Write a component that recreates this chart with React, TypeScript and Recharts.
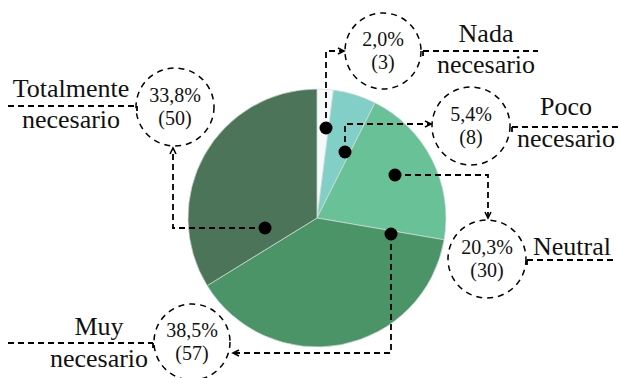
import { Pie, PieChart, Cell } from "recharts";

const categories = ["Nada necesario", "Poco necesario", "Neutral", "Muy necesario", "Totalmente necesario"];
const counts = [3, 8, 30, 57, 50];
const nameLines = [
  ["Nada", "necesario"],
  ["Poco", "necesario"],
  ["Neutral"],
  ["Muy", "necesario"],
  ["Totalmente", "necesario"],
];
const colors = ["#f5f9f9", "#82cfc7", "#68c197", "#4b9468", "#4c7458"];

const data = categories.map((c, i) => ({ name: c, value: counts[i] }));

// callout layout, offsets from the pie centre
type Callout = {
  path: [number, number][];
  arrow: "right" | "down" | "left" | "up";
  circle: [number, number, number];
  nameX: number;
  nameY: number[];
  under: [number, number, number];
  tick: number;
};
const callouts: Callout[] = [
  { path: [[9, -90], [9, -167], [27, -167]], arrow: "right", circle: [66, -167, 38], nameX: 169, nameY: [-176, -145], under: [106, 221, -167], tick: 106 },
  { path: [[28, -66], [28, -94], [114, -94]], arrow: "right", circle: [154, -92, 39], nameX: 249, nameY: [-103, -71], under: [195, 302, -91], tick: 195 },
  { path: [[78, -43], [171, -43], [171, 0]], arrow: "down", circle: [170, 41, 39], nameX: 255, nameY: [37], under: [210, 296, 42], tick: 210 },
  { path: [[74, 16], [74, 135], [-84, 135]], arrow: "left", circle: [-125, 124, 38], nameX: -218, nameY: [117, 149], under: [-309, -164, 125], tick: -164 },
  { path: [[-52, 10], [-144, 10], [-144, -70]], arrow: "up", circle: [-142, -111, 39], nameX: -246, nameY: [-121, -90], under: [-309, -180, -112], tick: -180 },
];

const serif = "'Liberation Serif', 'Times New Roman', serif";

function arrowHead(x: number, y: number, dir: string) {
  const s = 6;
  const pts: Record<string, string> = {
    right: `${x - s},${y - s / 2} ${x},${y} ${x - s},${y + s / 2}`,
    left: `${x + s},${y - s / 2} ${x},${y} ${x + s},${y + s / 2}`,
    down: `${x - s / 2},${y - s} ${x},${y} ${x + s / 2},${y - s}`,
    up: `${x - s / 2},${y + s} ${x},${y} ${x + s / 2},${y + s}`,
  };
  return <polyline points={pts[dir]} fill="none" stroke="#000" strokeWidth={1.6} />;
}

function renderCallout(props: any) {
  const { cx, cy, index, percent, value } = props;
  const c = callouts[index];
  const pts = c.path.map(([x, y]) => [cx + x, cy + y]);
  const d = pts.map((p, i) => `${i ? "L" : "M"}${p[0]},${p[1]}`).join(" ");
  const end = pts[pts.length - 1];
  const [ccx, ccy, r] = c.circle;
  const pct = (percent * 100).toFixed(1).replace(".", ",") + "%";
  return (
    <g key={`co-${index}`}>
      <path d={d} fill="none" stroke="#000" strokeWidth={1.8} strokeDasharray="6 4" />
      {arrowHead(end[0], end[1], c.arrow)}
      <circle cx={pts[0][0]} cy={pts[0][1]} r={6.5} fill="#000" />
      <circle cx={cx + ccx} cy={cy + ccy} r={r} fill="none" stroke="#000" strokeWidth={1.5} strokeDasharray="6 5" />
      <text x={cx + ccx} y={cy + ccy - 5} textAnchor="middle" fontFamily={serif} fontSize={20} fill="#111">
        {pct}
      </text>
      <text x={cx + ccx} y={cy + ccy + 18} textAnchor="middle" fontFamily={serif} fontSize={20} fill="#111">
        ({value})
      </text>
      <path
        d={`M${cx + c.under[0]},${cy + c.under[2]} L${cx + c.under[1]},${cy + c.under[2]} M${cx + c.tick},${cy + c.under[2]} L${cx + c.tick},${cy + c.under[2] + 5}`}
        stroke="#000"
        strokeWidth={1.8}
        strokeDasharray="6 4"
        fill="none"
      />
      {nameLines[index].map((t, j) => (
        <text key={t} x={cx + c.nameX} y={cy + c.nameY[j]} textAnchor="middle" fontFamily={serif} fontSize={26} fill="#111">
          {t}
        </text>
      ))}
    </g>
  );
}

export default function App() {
  return (
    <div style={{ position: "fixed", left: 0, top: 0, width: 619, height: 378, background: "#fff" }}>
      <PieChart width={619} height={378} margin={{ top: 0, right: 0, bottom: 0, left: 0 }}>
        <Pie
          data={data}
          dataKey="value"
          nameKey="name"
          cx={317}
          cy={218}
          outerRadius={129}
          startAngle={90}
          endAngle={-270}
          stroke="#d5dfda"
          strokeWidth={0.7}
          label={renderCallout}
          labelLine={false}
          isAnimationActive={false}
        >
          {data.map((d, i) => (
            <Cell key={d.name} fill={colors[i]} />
          ))}
        </Pie>
      </PieChart>
    </div>
  );
}
